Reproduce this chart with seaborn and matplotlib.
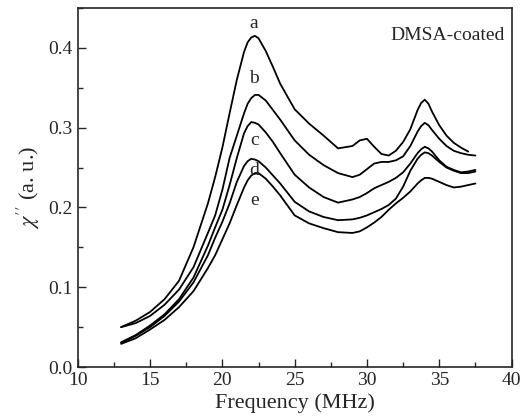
import numpy as np
import pandas as pd
import matplotlib
matplotlib.use("Agg")
import matplotlib.pyplot as plt
from matplotlib.ticker import MultipleLocator, FormatStrFormatter
import seaborn as sns

# frequency grid (MHz) shared by all samples
freq = [13, 14, 15, 16, 17, 18, 19, 19.5, 20, 20.5, 21, 21.5, 21.75, 22, 22.25, 22.5,
        23, 23.5, 24, 25, 26, 27, 28, 29, 29.5, 30, 30.5, 31, 31.5, 32, 32.5, 33,
        33.5, 33.75, 34, 34.25, 34.5, 35, 35.5, 36, 36.5, 37, 37.5]

chi_a = [0.050, 0.058, 0.069, 0.085, 0.108, 0.150, 0.205, 0.238, 0.275, 0.318, 0.360,
         0.395, 0.407, 0.413, 0.415, 0.412, 0.396, 0.376, 0.355, 0.323, 0.305, 0.290,
         0.274, 0.277, 0.284, 0.286, 0.276, 0.267, 0.265, 0.271, 0.282, 0.298, 0.322,
         0.331, 0.335, 0.330, 0.320, 0.303, 0.290, 0.281, 0.275, 0.270, np.nan]
chi_b = [0.050, 0.055, 0.064, 0.078, 0.097, 0.125, 0.168, 0.190, 0.222, 0.262, 0.290,
         0.318, 0.330, 0.337, 0.341, 0.341, 0.334, 0.322, 0.310, 0.284, 0.266, 0.253,
         0.243, 0.238, 0.241, 0.248, 0.255, 0.257, 0.257, 0.259, 0.264, 0.277, 0.295,
         0.302, 0.306, 0.303, 0.297, 0.286, 0.277, 0.271, 0.268, 0.266, 0.265]
chi_c = [0.031, 0.040, 0.052, 0.066, 0.085, 0.112, 0.152, 0.175, 0.197, 0.228, 0.262,
         0.293, 0.302, 0.307, 0.306, 0.304, 0.294, 0.282, 0.268, 0.241, 0.225, 0.213,
         0.206, 0.210, 0.213, 0.218, 0.224, 0.228, 0.232, 0.237, 0.244, 0.255, 0.268,
         0.273, 0.276, 0.274, 0.270, 0.259, 0.251, 0.247, 0.244, 0.245, 0.247]
chi_d = [0.030, 0.039, 0.050, 0.064, 0.082, 0.106, 0.140, 0.162, 0.182, 0.205, 0.232,
         0.252, 0.258, 0.261, 0.260, 0.258, 0.250, 0.240, 0.230, 0.207, 0.195, 0.188,
         0.184, 0.185, 0.187, 0.190, 0.194, 0.198, 0.203, 0.211, 0.226, 0.246, 0.261,
         0.266, 0.269, 0.268, 0.265, 0.257, 0.250, 0.246, 0.243, 0.243, 0.245]
chi_e = [0.029, 0.036, 0.047, 0.059, 0.075, 0.095, 0.124, 0.140, 0.160, 0.180, 0.203,
         0.225, 0.234, 0.240, 0.243, 0.243, 0.236, 0.226, 0.215, 0.190, 0.180, 0.174,
         0.169, 0.168, 0.170, 0.175, 0.181, 0.188, 0.197, 0.205, 0.212, 0.220, 0.230,
         0.234, 0.237, 0.237, 0.236, 0.232, 0.228, 0.225, 0.226, 0.228, 0.230]

samples = ["a", "b", "c", "d", "e"]
label_freq = [22.2, 22.2, 22.2, 22.2, 22.2]
label_chi = [0.431, 0.361, 0.284, 0.246, 0.209]

sns.set_style("ticks")
plt.rcParams["font.family"] = ["Liberation Serif", "DejaVu Serif"]
plt.rcParams["mathtext.fontset"] = "stix"

frames = []
for name, vals in zip(samples, [chi_a, chi_b, chi_c, chi_d, chi_e]):
    frames.append(pd.DataFrame({"freq": freq, "chi": vals, "sample": name}))
df = pd.concat(frames).dropna()

fig = plt.figure(figsize=(5.22, 4.18), dpi=100)
ax = fig.add_axes([0.149, 0.122, 0.831, 0.859])

sns.lineplot(data=df, x="freq", y="chi", hue="sample", units="sample",
             estimator=None, palette=["black"] * 5, legend=False,
             linewidth=1.3, ax=ax)

for s, fx, fy in zip(samples, label_freq, label_chi):
    ax.text(fx, fy, s, fontsize=14, ha="center", va="center")
ax.text(39.5, 0.415, "DMSA-coated", fontsize=14, ha="right", va="center")

ax.set_xlim(10, 40)
ax.set_ylim(0, 0.45)
ax.xaxis.set_major_locator(MultipleLocator(5))
ax.xaxis.set_minor_locator(MultipleLocator(2.5))
ax.yaxis.set_major_locator(MultipleLocator(0.1))
ax.yaxis.set_minor_locator(MultipleLocator(0.05))
ax.yaxis.set_major_formatter(FormatStrFormatter("%.1f"))
ax.tick_params(which="both", direction="in", labelsize=14, width=1)
ax.tick_params(which="major", length=6)
ax.tick_params(which="minor", length=3.5)
for sp in ax.spines.values():
    sp.set_linewidth(1.2)
    sp.set_visible(True)

ax.set_xlabel("Frequency (MHz)", fontsize=16, labelpad=3)
ax.set_ylabel(r"$\chi''$ (a. u.)", fontsize=16, labelpad=5)

fig.savefig("out.png", dpi=100)
